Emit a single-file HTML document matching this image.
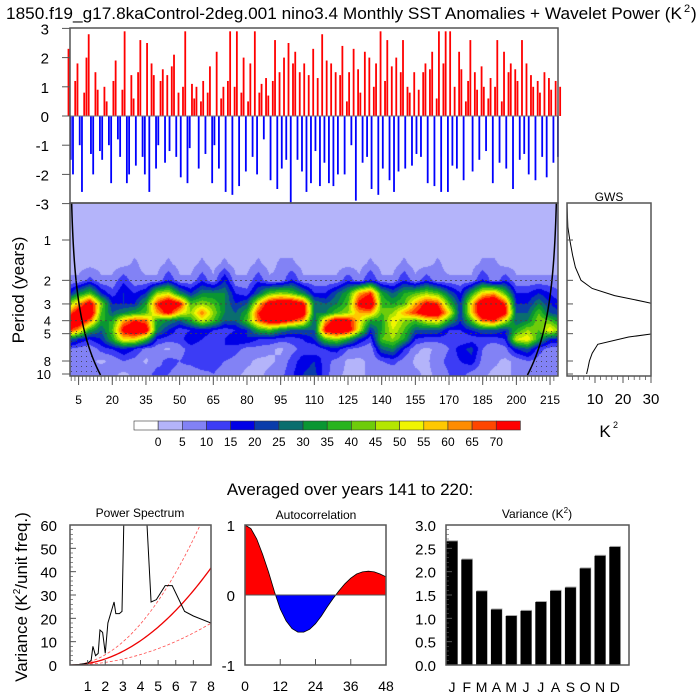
<!DOCTYPE html>
<html><head><meta charset="utf-8"><style>
body{margin:0;background:#fff;width:700px;height:700px;overflow:hidden;position:relative;font-family:"Liberation Sans",sans-serif}
#wv{position:absolute;left:70px;top:203px}
svg{position:absolute;left:0;top:0}
text{font-family:"Liberation Sans",sans-serif}
</style></head><body>
<canvas id="wv" width="488" height="173"></canvas>
<svg id="s" width="700" height="700"></svg>
<script>
// ---------- data ----------
const sstAnom=[2.3,-1.5,-2.0,1.2,1.8,-1.0,-2.6,0.8,2.0,2.8,
-1.3,-2.0,1.5,0.9,-1.2,-1.5,1.0,0.5,-1.0,-2.3,
1.2,1.9,-0.8,-1.4,0.9,2.9,-2.3,-2.0,1.4,0.6,
-1.7,1.5,2.6,-1.4,-2.0,2.5,-2.6,1.8,1.4,-1.8,
-1.0,1.2,1.6,-1.6,1.4,-1.2,1.7,2.1,-1.4,0.8,
-2.1,1.0,2.9,-2.3,-1.1,1.1,0.6,1.0,-1.8,0.5,
1.2,-1.3,0.8,1.7,-2.3,-1.0,2.2,-1.8,0.6,1.0,
-2.6,1.2,2.9,-2.7,1.0,2.9,-2.4,0.8,2.0,-1.9,
0.5,1.8,-1.4,2.9,-2.0,0.8,1.1,-0.8,1.3,0.7,
-2.2,1.2,2.6,-2.5,1.5,-1.8,2.0,-1.5,2.5,-3.0,
1.8,2.2,-1.5,1.5,-1.9,1.8,-2.6,1.4,-2.3,2.3,
-1.2,1.3,-2.4,2.8,-1.6,1.9,-2.3,1.8,-2.4,1.5,
-2.0,1.4,2.4,-2.0,0.5,1.5,-1.0,2.3,-2.9,1.6,
0.8,-1.6,2.2,-1.4,2.0,-2.5,1.0,1.8,-2.7,2.9,
-1.8,1.2,2.6,-2.2,1.7,-2.6,2.0,-1.9,1.5,2.6,
-1.8,1.0,0.8,-1.7,1.5,-1.3,0.9,-1.4,1.5,1.8,
-2.3,1.6,2.2,-2.4,0.6,2.9,-2.6,1.8,2.9,-2.6,
2.9,-1.7,1.0,-1.8,2.2,1.6,-2.2,0.5,1.2,2.6,
-1.9,1.5,0.9,-1.5,1.7,1.0,-1.2,0.6,1.3,-2.3,
1.0,2.6,-1.6,0.5,2.2,-1.8,1.5,1.8,-2.5,1.6,
1.2,-1.5,2.6,-1.3,1.8,-2.0,1.4,1.0,-2.2,1.2,
0.8,-1.4,1.5,-2.1,1.3,0.9,-1.6,1.2,-1.4,1.0];
const wvTimes=[0,5,10,15,20,25,30,35,40,45,50,55,60,65,70,75,80,85,90,95,100,105,110,115,120,125,130,135,140,145,150,155,160,165,170,175,180,185,190,195,200,205,210,215,220];
const wvPeriods=[0.5,1,1.5,2,2.5,3,3.5,4,4.7,5.5,6.5,8,10];
const wvP05=[2,2,2,2,2,2,2,2,2,2,2,2,2,2,2,2,2,2,2,2,2,2,2,2,2,2,2,2,2,2,2,2,2,2,2,2,2,2,2,2,2,2,2,2,2];
const wvP1=[2,2,2,2,2,2,2,2,2,2,2,2,2,2,2,2,2,2,2,2,2,2,2,2,2,2,2,2,2,2,2,2,2,2,2,2,2,2,2,2,2,2,2,2,2];
const wvP15=[3,3,3,3,3,3,6,3,3,6,3,3,6,3,6,3,3,6,3,6,6,3,3,3,3,3,3,6,3,3,6,3,3,6,3,3,3,6,6,3,3,3,3,3,3];
const wvP2=[6,6,12,6,6,14,6,6,6,15,6,6,14,6,20,6,6,14,6,6,16,6,6,6,6,14,6,16,6,6,15,6,14,6,6,6,6,16,6,14,6,6,6,6,6];
const wvP25=[15,30,40,20,12,20,15,20,45,50,30,20,30,30,30,15,12,25,40,45,40,30,15,15,25,35,60,70,35,25,35,40,45,40,25,15,35,55,60,40,15,15,20,15,10];
const wvP3=[40,60,80,45,20,20,20,35,70,85,75,40,45,40,30,20,25,55,80,85,85,75,30,25,30,40,75,85,40,35,40,60,75,70,40,20,55,85,90,70,20,20,30,20,15];
const wvP35=[60,80,85,40,25,30,35,40,60,75,55,45,65,45,30,25,35,70,85,90,90,80,30,30,40,45,60,60,40,45,60,70,80,80,55,20,55,85,90,75,25,25,40,25,20];
const wvP4=[80,85,65,35,35,60,70,65,35,30,25,35,50,40,25,25,40,65,80,80,70,60,25,60,80,75,55,35,35,55,45,40,50,55,35,20,40,65,70,50,25,30,45,40,30];
const wvP47=[75,60,35,25,40,75,85,80,30,20,12,15,18,15,12,15,20,35,40,30,25,25,25,75,85,80,50,20,35,50,40,25,25,25,15,15,20,25,25,20,35,45,40,55,40];
const wvP55=[30,20,15,20,35,55,55,40,15,12,12,20,15,12,15,20,20,15,15,12,12,15,20,40,45,35,20,12,40,45,35,15,12,12,12,10,12,12,12,15,50,55,35,20,20];
const wvP65=[10,8,6,12,15,20,15,8,6,4,8,12,10,12,15,12,8,8,6,4,8,12,10,15,18,10,8,6,25,30,15,6,4,6,10,18,22,10,6,8,20,25,12,8,8];
const wvP8=[8,10,6,4,6,10,8,4,8,12,10,12,15,12,10,8,6,4,4,6,12,18,20,12,8,4,4,6,10,12,8,4,4,8,12,15,18,8,6,4,6,10,8,6,6];
const wvP10=[6,8,6,8,6,4,6,8,12,10,8,6,8,10,8,6,4,4,6,8,14,20,22,12,6,4,4,6,6,6,8,6,4,6,10,12,8,6,4,4,6,8,8,6,6];
const wvPower=[wvP05,wvP1,wvP15,wvP2,wvP25,wvP3,wvP35,wvP4,wvP47,wvP55,wvP65,wvP8,wvP10];
const levelColors=["#ffffff","#b4b4fa","#8282f5","#3c3cf5","#0000e6","#0a3caa","#0a6e6e","#0a9632","#28b41e","#6ecc0a","#b4e600","#f0f500","#ffc800","#ff8c00","#ff4600","#ff0000"];
const levelLabels=[0,5,10,15,20,25,30,35,40,45,50,55,60,65,70];
const gwsPeriods=[0.53,0.8,1,1.3,1.6,2,2.3,2.6,2.9,3.0,4,5,5.3,6,7,8,9,10];
const gwsPower=[0,0.3,1,2,3,5,9,17,28,31,60,31,22,11,9,8,7.5,7];
const specFreq=[0,0.5,1,1.2,1.3,1.45,1.6,1.7,1.85,2,2.15,2.5,2.6,2.8,2.95,3.05,3.5,4.3,4.6,4.9,5.4,5.8,6.5,7,8];
const specPow=[0,0.2,0.8,2,8,4,5,15,14,5,18,27,22,22,23,60,100,70,27,28,34,34,23,21,18];
const acLag=[0,2,4,6,8,10,12,14,16,18,20,22,24,26,28,30,32,34,36,38,40,42,44,46,48];
const acVal=[1,.95,.8,.58,.33,.05,-.2,-.37,-.48,-.53,-.53,-.49,-.41,-.3,-.17,-.05,.06,.16,.24,.3,.33,.34,.33,.3,.26];
const months=["J","F","M","A","M","J","J","A","S","O","N","D"];
const monthVar=[2.65,2.26,1.58,1.19,1.05,1.16,1.35,1.59,1.66,2.07,2.34,2.53];

// ---------- helpers ----------
const S=document.getElementById('s');const NS="http://www.w3.org/2000/svg";
function el(tag,at,parent){const e=document.createElementNS(NS,tag);for(const k in at)e.setAttribute(k,at[k]);(parent||S).appendChild(e);return e;}
function txt(x,y,s,size,anchor,parent){const t=el('text',{x:x,y:y,'font-size':size,'text-anchor':anchor||'middle'},parent);t.textContent=s;return t;}
const X0=70,X1=558;
const xT=t=>78.6+(t-5)*2.245;
const yA=v=>116-v*29.2;
const yP=p=>240+134*Math.log10(p);

// title
let t=txt(344,19,"1850.f19_g17.8kaControl-2deg.001 nino3.4 Monthly SST Anomalies + Wavelet Power (K",17,'middle');

t.setAttribute('textLength','676');t.setAttribute('lengthAdjust','spacingAndGlyphs');
let sup=txt(684,12,"2",11,'start');
let cl=txt(691,19,")",17,'start');

// ---------- time series ----------
const gTS=el('g',{});
sstAnom.forEach((v,i)=>{
 const x=xT(i+0.5)-0.9;
 const r=el('rect',{x:x,width:1.8,y:v>0?yA(v):yA(0),height:Math.abs(v)*29.2,fill:v>0?'#ff0000':'#0000ff'},gTS);
 
 
});
el('line',{x1:X0,x2:X1,y1:116,y2:116,stroke:'#777','stroke-width':1,});
el('rect',{x:X0,y:28,width:X1-X0,height:175,fill:'none',stroke:'#555','stroke-width':1.5,});
const gTA=el('g',{});
for(let v=-3;v<=3;v++){el('line',{x1:62,x2:70,y1:yA(v),y2:yA(v),stroke:'#555'},gTA);txt(49,yA(v)+6,String(v),15,'end',gTA);}

// ---------- wavelet canvas ----------
const cv=document.getElementById('wv'),cx=cv.getContext('2d'),img=cx.createImageData(488,173);
const rgb=levelColors.map(c=>[parseInt(c.substr(1,2),16),parseInt(c.substr(3,2),16),parseInt(c.substr(5,2),16)]);
const lp=wvPeriods.map(p=>Math.log10(p));
const dtW=wvTimes[1]-wvTimes[0];
for(let py=0;py<173;py++){
 let L=(py+203.5-240)/134;
 let j=0;while(j<lp.length-2&&L>lp[j+1])j++;
 let fy=Math.min(1,Math.max(0,(L-lp[j])/(lp[j+1]-lp[j])));
 for(let px=0;px<488;px++){
  let tt=5+(px+70.5-78.6)/2.245;
  let i=Math.min(wvTimes.length-2,Math.max(0,Math.floor((tt-wvTimes[0])/dtW)));
  let fx=Math.min(1,Math.max(0,(tt-wvTimes[i])/dtW));
  let v=(wvPower[j][i]*(1-fx)+wvPower[j][i+1]*fx)*(1-fy)+(wvPower[j+1][i]*(1-fx)+wvPower[j+1][i+1]*fx)*fy;
  let k=v<0?0:Math.min(15,1+Math.floor(v/5));
  let o=(py*488+px)*4;img.data[o]=rgb[k][0];img.data[o+1]=rgb[k][1];img.data[o+2]=rgb[k][2];img.data[o+3]=255;
 }
}
cx.putImageData(img,0,0);

// COI + stipple
const defs=el('defs',{});
const pat=el('pattern',{id:'dots',width:5,height:5,patternUnits:'userSpaceOnUse'},defs);
el('circle',{cx:1.5,cy:1.5,r:0.5,fill:'#333'},pat);
const tMin=1.2,tMax=218.5;
function coiX(p,side){const dt=p/0.75;return side<0?xT(tMin+dt):xT(tMax-dt);}
let lpts=[],rpts=[];
for(let y=203;y<=376;y+=2){const p=Math.pow(10,(y-240)/134);lpts.push([coiX(p,-1),y]);rpts.push([coiX(p,1),y]);}
const sl=lpts.filter(q=>q[1]>330);
el('polygon',{points:X0+',330 '+sl.map(q=>q.join(',')).join(' ')+' '+X0+',376',fill:'url(#dots)',});
const sr=rpts.filter(q=>q[1]>330);
el('polygon',{points:X1+',330 '+sr.map(q=>q.join(',')).join(' ')+' '+X1+',376',fill:'url(#dots)',});
el('polyline',{points:lpts.map(q=>q.join(',')).join(' '),fill:'none',stroke:'#000','stroke-width':1.5,});
el('polyline',{points:rpts.map(q=>q.join(',')).join(' '),fill:'none',stroke:'#000','stroke-width':1.5,});
[2,3,4,5].forEach(p=>{const l=el('line',{x1:X0,x2:X1,y1:yP(p),y2:yP(p),stroke:'#444','stroke-dasharray':'2,3','stroke-width':0.8});});
el('rect',{x:X0,y:203,width:X1-X0,height:173,fill:'none',stroke:'#555','stroke-width':1.5,});
const gPA=el('g',{});
[1,2,3,4,5,8,10].forEach(p=>{el('line',{x1:62,x2:70,y1:yP(p),y2:yP(p),stroke:'#555'},gPA);txt(51,yP(p)+5,String(p),13,'end',gPA);});
let pl=txt(0,0,"Period (years)",17,'middle');pl.setAttribute('transform','translate(24,290) rotate(-90)');

const gXA=el('g',{});
for(let k=0;k*5/3+1.7<=218;k++){const yr=1.7+k*5/3;el('line',{x1:xT(yr),x2:xT(yr),y1:376,y2:381,stroke:'#555','stroke-width':0.8},gXA);}
for(let yr=5;yr<=215;yr+=15){el('line',{x1:xT(yr),x2:xT(yr),y1:376,y2:385,stroke:'#555'},gXA);txt(xT(yr),404,String(yr),12,'middle',gXA);}

// ---------- GWS ----------
const xG=v=>567+v*84/30;
const gG=el('g',{});
el('clipPath',{id:'gc'},defs).appendChild(el('rect',{x:567,y:203,width:84,height:173},defs));
el('polyline',{points:gwsPeriods.map((p,i)=>xG(gwsPower[i])+','+yP(p)).join(' '),fill:'none',stroke:'#000','stroke-width':1,'clip-path':'url(#gc)',},gG);
el('rect',{x:567,y:203,width:84,height:173,fill:'none',stroke:'#555','stroke-width':1.5},gG);
[1,2,3,4,5,8,10].forEach(p=>el('line',{x1:567,x2:573,y1:yP(p),y2:yP(p),stroke:'#555'},gG));
[10,20,30].forEach(v=>{el('line',{x1:xG(v),x2:xG(v),y1:376,y2:383,stroke:'#555'},gG);txt(xG(v),404,String(v),15,'middle',gG);});
for(let v=2;v<30;v+=2)el('line',{x1:xG(v),x2:xG(v),y1:376,y2:380,stroke:'#555','stroke-width':.8},gG);
txt(609,201,"GWS",12,'middle',gG);
txt(605,437,"K",17,'middle',gG);txt(613,428,"2",9,'start',gG);

// ---------- colorbar ----------
const gC=el('g',{});
levelColors.forEach((c,i)=>{const r=el('rect',{x:134+i*24.15,y:421,width:24.15,height:9,fill:c,stroke:'#333','stroke-width':0.6},gC);});
levelLabels.forEach((v,i)=>txt(134+(i+1)*24.15,446,String(v),12,'middle',gC));

// ---------- bottom title ----------
let bt=txt(350,495,"Averaged over years 141 to 220:",17,'middle');

// ---------- power spectrum ----------
const xS=f=>70+f*141/8,yS=v=>665-v*140/60;
const gS=el('g',{});
el('clipPath',{id:'sc'},defs).appendChild(el('rect',{x:70,y:525,width:141,height:140},defs));
function curve(k){let a=[];for(let f=0;f<=8.001;f+=0.1)a.push(xS(f)+','+yS(k*f*f));return a.join(' ');}
el('polyline',{points:curve(1.1),fill:'none',stroke:'#ff5050','stroke-width':0.8,'stroke-dasharray':'3,2','clip-path':'url(#sc)',},gS);
el('polyline',{points:curve(0.28),fill:'none',stroke:'#ff5050','stroke-width':0.8,'stroke-dasharray':'3,2','clip-path':'url(#sc)',},gS);
el('polyline',{points:curve(0.65),fill:'none',stroke:'#ee0000','stroke-width':1.3,'clip-path':'url(#sc)',},gS);
el('polyline',{points:specFreq.map((f,i)=>xS(f)+','+yS(specPow[i])).join(' '),fill:'none',stroke:'#000','stroke-width':1,'clip-path':'url(#sc)',},gS);
el('rect',{x:70,y:525,width:141,height:140,fill:'none',stroke:'#555','stroke-width':1.5},gS);
for(let v=0;v<=60;v+=10){el('line',{x1:70,x2:76,y1:yS(v),y2:yS(v),stroke:'#555'},gS);txt(57,yS(v)+6,String(v),15,'end',gS);}
for(let v=2;v<60;v+=2)el('line',{x1:70,x2:73,y1:yS(v),y2:yS(v),stroke:'#555','stroke-width':.7},gS);
for(let f=1;f<=8;f++){el('line',{x1:xS(f),x2:xS(f),y1:665,y2:660,stroke:'#555'},gS);txt(xS(f),691,String(f),14,'middle',gS);}
txt(140,517,"Power Spectrum",12,'middle',gS);
let vy=el('text',{transform:'translate(27,597) rotate(-90)','font-size':17,'text-anchor':'middle'},gS);
vy.innerHTML='Variance (K<tspan font-size="10" dy="-7">2</tspan><tspan dy="7">/unit freq.)</tspan>';

// ---------- autocorrelation ----------
const xC=l=>245+l*141/48,yC=v=>595-v*70;
const gAC=el('g',{});
el('clipPath',{id:'pos'},defs).appendChild(el('rect',{x:245,y:525,width:141,height:70},defs));
el('clipPath',{id:'neg'},defs).appendChild(el('rect',{x:245,y:595,width:141,height:70},defs));
const acPts=acLag.map((l,i)=>xC(l)+','+yC(acVal[i])).join(' ');
const poly=xC(0)+','+yC(0)+' '+acPts+' '+xC(48)+','+yC(0);
el('polygon',{points:poly,fill:'#ff0000','clip-path':'url(#pos)',},gAC);
el('polygon',{points:poly,fill:'#0000ff','clip-path':'url(#neg)',},gAC);
el('polyline',{points:acPts,fill:'none',stroke:'#000','stroke-width':0.8,},gAC);
el('line',{x1:245,x2:386,y1:595,y2:595,stroke:'#555'},gAC);
el('rect',{x:245,y:525,width:141,height:140,fill:'none',stroke:'#555','stroke-width':1.5},gAC);
[-1,0,1].forEach(v=>{el('line',{x1:245,x2:251,y1:yC(v),y2:yC(v),stroke:'#555'},gAC);txt(235,yC(v)+6,String(v),15,'end',gAC);});
[0,12,24,36,48].forEach(l=>{el('line',{x1:xC(l),x2:xC(l),y1:665,y2:659,stroke:'#555'},gAC);txt(xC(l),691,String(l),14,'middle',gAC);});
txt(316,519,"Autocorrelation",12,'middle',gAC);

// ---------- monthly variance ----------
const VX0=446,VX1=629;
const xV=i=>452+i*14.8,yV=v=>665-v*140/3;
const gV=el('g',{});
monthVar.forEach((v,i)=>{
 el('rect',{x:xV(i)-5,y:yV(v)-1,width:11,height:v*140/3+1,fill:'#aaa'},gV);
 const r=el('rect',{x:xV(i)-5.5,y:yV(v),width:11,height:v*140/3,fill:'#000'},gV);
 
 txt(xV(i),692,months[i],14,'middle',gV);
});
el('rect',{x:VX0,y:525,width:VX1-VX0,height:140,fill:'none',stroke:'#555','stroke-width':1.5},gV);
for(let v=0;v<=3.001;v+=0.5){el('line',{x1:VX0,x2:VX0+6,y1:yV(v),y2:yV(v),stroke:'#555'},gV);txt(VX0-10,yV(v)+6,v.toFixed(1),15,'end',gV);}
for(let v=0.1;v<3;v+=0.1)el('line',{x1:VX0,x2:VX0+3,y1:yV(v),y2:yV(v),stroke:'#555','stroke-width':.6},gV);
let vt=el('text',{x:537,y:518,'font-size':12,'text-anchor':'middle'},gV);
vt.innerHTML='Variance (K<tspan font-size="8" dy="-5">2</tspan><tspan dy="5">)</tspan>';
</script>
</body></html>
